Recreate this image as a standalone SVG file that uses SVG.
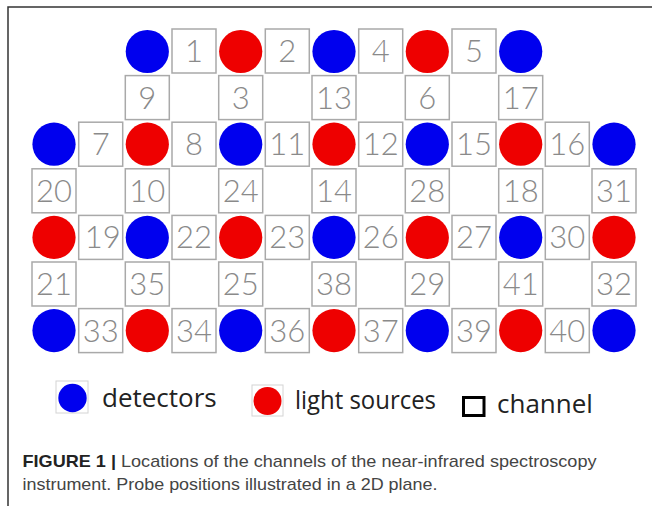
<svg xmlns="http://www.w3.org/2000/svg" width="652" height="506" viewBox="0 0 652 506">
<style>
.box{fill:#fff;stroke:#a9a9a9;stroke-width:1.5}
.num{font-family:Lato,"Liberation Sans",sans-serif;font-weight:300;font-size:31px;fill:#8a8a8a;text-anchor:middle}
.det{fill:#0000ee}
.src{fill:#ee0000}
.leg{font-family:"Open Sans","Noto Sans",sans-serif;font-size:26px;fill:#222}
.cap{font-family:"Liberation Sans",Arial,sans-serif;font-size:17px;fill:#444}
</style>
<rect width="652" height="506" fill="#fff"/>
<g id="frame" fill="none" stroke="#333" stroke-width="1.5">
<path d="M8 506 V7 H652"/>
</g>
<g id="connectors"></g>
<g id="channels">
<g id="ch1"><rect class="box" x="172" y="29" width="44" height="44"/><text class="num" x="194" y="62">1</text></g>
<g id="ch2"><rect class="box" x="265.3" y="29" width="44" height="44"/><text class="num" x="287.3" y="62">2</text></g>
<g id="ch4"><rect class="box" x="358.7" y="29" width="44" height="44"/><text class="num" x="380.7" y="62">4</text></g>
<g id="ch5"><rect class="box" x="452" y="29" width="44" height="44"/><text class="num" x="474" y="62">5</text></g>
<g id="ch9"><rect class="box" x="125.3" y="75.6" width="44" height="44"/><text class="num" x="147.3" y="108.6">9</text></g>
<g id="ch3"><rect class="box" x="218.7" y="75.6" width="44" height="44"/><text class="num" x="240.7" y="108.6">3</text></g>
<g id="ch13"><rect class="box" x="312" y="75.6" width="44" height="44"/><text class="num" x="334" y="108.6">13</text></g>
<g id="ch6"><rect class="box" x="405.3" y="75.6" width="44" height="44"/><text class="num" x="427.3" y="108.6">6</text></g>
<g id="ch17"><rect class="box" x="498.7" y="75.6" width="44" height="44"/><text class="num" x="520.7" y="108.6">17</text></g>
<g id="ch7"><rect class="box" x="78.7" y="122.2" width="44" height="44"/><text class="num" x="100.7" y="155.2">7</text></g>
<g id="ch8"><rect class="box" x="172" y="122.2" width="44" height="44"/><text class="num" x="194" y="155.2">8</text></g>
<g id="ch11"><rect class="box" x="265.3" y="122.2" width="44" height="44"/><text class="num" x="287.3" y="155.2">11</text></g>
<g id="ch12"><rect class="box" x="358.7" y="122.2" width="44" height="44"/><text class="num" x="380.7" y="155.2">12</text></g>
<g id="ch15"><rect class="box" x="452" y="122.2" width="44" height="44"/><text class="num" x="474" y="155.2">15</text></g>
<g id="ch16"><rect class="box" x="545.3" y="122.2" width="44" height="44"/><text class="num" x="567.3" y="155.2">16</text></g>
<g id="ch20"><rect class="box" x="32" y="168.8" width="44" height="44"/><text class="num" x="54" y="201.8">20</text></g>
<g id="ch10"><rect class="box" x="125.3" y="168.8" width="44" height="44"/><text class="num" x="147.3" y="201.8">10</text></g>
<g id="ch24"><rect class="box" x="218.7" y="168.8" width="44" height="44"/><text class="num" x="240.7" y="201.8">24</text></g>
<g id="ch14"><rect class="box" x="312" y="168.8" width="44" height="44"/><text class="num" x="334" y="201.8">14</text></g>
<g id="ch28"><rect class="box" x="405.3" y="168.8" width="44" height="44"/><text class="num" x="427.3" y="201.8">28</text></g>
<g id="ch18"><rect class="box" x="498.7" y="168.8" width="44" height="44"/><text class="num" x="520.7" y="201.8">18</text></g>
<g id="ch31"><rect class="box" x="592" y="168.8" width="44" height="44"/><text class="num" x="614" y="201.8">31</text></g>
<g id="ch19"><rect class="box" x="78.7" y="215.4" width="44" height="44"/><text class="num" x="102.7" y="248.4">19</text></g>
<g id="ch22"><rect class="box" x="172" y="215.4" width="44" height="44"/><text class="num" x="194" y="248.4">22</text></g>
<g id="ch23"><rect class="box" x="265.3" y="215.4" width="44" height="44"/><text class="num" x="287.3" y="248.4">23</text></g>
<g id="ch26"><rect class="box" x="358.7" y="215.4" width="44" height="44"/><text class="num" x="380.7" y="248.4">26</text></g>
<g id="ch27"><rect class="box" x="452" y="215.4" width="44" height="44"/><text class="num" x="474" y="248.4">27</text></g>
<g id="ch30"><rect class="box" x="545.3" y="215.4" width="44" height="44"/><text class="num" x="567.3" y="248.4">30</text></g>
<g id="ch21"><rect class="box" x="32" y="262" width="44" height="44"/><text class="num" x="54" y="295">21</text></g>
<g id="ch35"><rect class="box" x="125.3" y="262" width="44" height="44"/><text class="num" x="147.3" y="295">35</text></g>
<g id="ch25"><rect class="box" x="218.7" y="262" width="44" height="44"/><text class="num" x="240.7" y="295">25</text></g>
<g id="ch38"><rect class="box" x="312" y="262" width="44" height="44"/><text class="num" x="334" y="295">38</text></g>
<g id="ch29"><rect class="box" x="405.3" y="262" width="44" height="44"/><text class="num" x="427.3" y="295">29</text></g>
<g id="ch41"><rect class="box" x="498.7" y="262" width="44" height="44"/><text class="num" x="520.7" y="295">41</text></g>
<g id="ch32"><rect class="box" x="592" y="262" width="44" height="44"/><text class="num" x="614" y="295">32</text></g>
<g id="ch33"><rect class="box" x="78.7" y="308.6" width="44" height="44"/><text class="num" x="100.7" y="341.6">33</text></g>
<g id="ch34"><rect class="box" x="172" y="308.6" width="44" height="44"/><text class="num" x="194" y="341.6">34</text></g>
<g id="ch36"><rect class="box" x="265.3" y="308.6" width="44" height="44"/><text class="num" x="287.3" y="341.6">36</text></g>
<g id="ch37"><rect class="box" x="358.7" y="308.6" width="44" height="44"/><text class="num" x="380.7" y="341.6">37</text></g>
<g id="ch39"><rect class="box" x="452" y="308.6" width="44" height="44"/><text class="num" x="474" y="341.6">39</text></g>
<g id="ch40"><rect class="box" x="545.3" y="308.6" width="44" height="44"/><text class="num" x="567.3" y="341.6">40</text></g>
</g>
<g id="probes">
<circle id="d1" class="det" cx="147.3" cy="51.5" r="21.6"/>
<circle id="s1" class="src" cx="240.7" cy="51.5" r="21.6"/>
<circle id="d2" class="det" cx="334" cy="51.5" r="21.6"/>
<circle id="s2" class="src" cx="427.3" cy="51.5" r="21.6"/>
<circle id="d3" class="det" cx="520.7" cy="51.5" r="21.6"/>
<circle id="d4" class="det" cx="54" cy="144.2" r="21.6"/>
<circle id="s3" class="src" cx="147.3" cy="144.2" r="21.6"/>
<circle id="d5" class="det" cx="240.7" cy="144.2" r="21.6"/>
<circle id="s4" class="src" cx="334" cy="144.2" r="21.6"/>
<circle id="d6" class="det" cx="427.3" cy="144.2" r="21.6"/>
<circle id="s5" class="src" cx="520.7" cy="144.2" r="21.6"/>
<circle id="d7" class="det" cx="614" cy="144.2" r="21.6"/>
<circle id="s6" class="src" cx="54" cy="237.4" r="21.6"/>
<circle id="d8" class="det" cx="147.3" cy="237.4" r="21.6"/>
<circle id="s7" class="src" cx="240.7" cy="237.4" r="21.6"/>
<circle id="d9" class="det" cx="334" cy="237.4" r="21.6"/>
<circle id="s8" class="src" cx="427.3" cy="237.4" r="21.6"/>
<circle id="d10" class="det" cx="520.7" cy="237.4" r="21.6"/>
<circle id="s9" class="src" cx="614" cy="237.4" r="21.6"/>
<circle id="d11" class="det" cx="54" cy="330.6" r="21.6"/>
<circle id="s10" class="src" cx="147.3" cy="330.6" r="21.6"/>
<circle id="d12" class="det" cx="240.7" cy="330.6" r="21.6"/>
<circle id="s11" class="src" cx="334" cy="330.6" r="21.6"/>
<circle id="d13" class="det" cx="427.3" cy="330.6" r="21.6"/>
<circle id="s12" class="src" cx="520.7" cy="330.6" r="21.6"/>
<circle id="d14" class="det" cx="614" cy="330.6" r="21.6"/>
</g>
<g id="legend">
<rect x="56" y="381" width="32" height="32" fill="none" stroke="#d4d4d4" stroke-width="1"/>
<circle class="det" cx="72.5" cy="398" r="14.2"/>
<text class="leg" x="102" y="407">detectors</text>
<rect x="252" y="385" width="31" height="31" fill="none" stroke="#d4d4d4" stroke-width="1"/>
<circle class="src" cx="267.5" cy="401" r="14"/>
<text class="leg" x="295" y="408.5" textLength="141" lengthAdjust="spacingAndGlyphs">light sources</text>
<rect x="463.5" y="397.5" width="20.5" height="18" fill="none" stroke="#000" stroke-width="3"/>
<text class="leg" x="497" y="413">channel</text>
</g>
<g id="caption">
<text class="cap" x="22.5" y="467" textLength="574" lengthAdjust="spacingAndGlyphs"><tspan font-weight="bold" fill="#222">FIGURE 1 |</tspan> Locations of the channels of the near-infrared spectroscopy</text>
<text class="cap" x="22.5" y="490" textLength="415" lengthAdjust="spacingAndGlyphs">instrument. Probe positions illustrated in a 2D plane.</text>
</g>
</svg>
